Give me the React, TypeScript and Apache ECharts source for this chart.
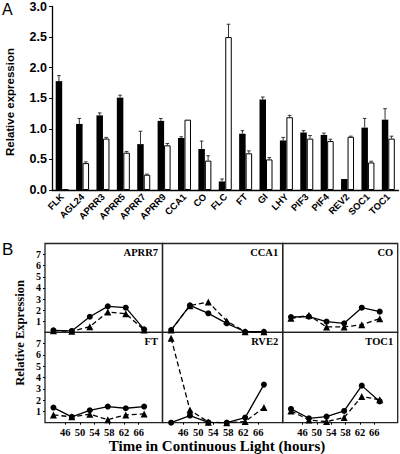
import { useEffect, useRef } from "react";
import * as echarts from "echarts";

// ---------- Panel A data ----------
const genes = ["FLK", "AGL24", "APRR3", "APRR5", "APRR7", "APRR9", "CCA1", "CO", "FLC", "FT", "GI", "LHY", "PIF3", "PIF4", "REV2", "SOC1", "TOC1"];
const blackVals = [1.78, 1.08, 1.22, 1.51, 0.75, 1.13, 0.85, 0.67, 0.14, 0.92, 1.48, 0.81, 0.94, 0.9, 0.18, 1.02, 1.15];
const blackErr = [0.09, 0.09, 0.04, 0.04, 0.21, 0.04, 0.02, 0.13, 0.04, 0.05, 0.04, 0.05, 0.03, 0.03, 0.0, 0.15, 0.18];
const whiteVals = [0.01, 0.44, 0.84, 0.61, 0.25, 0.73, 1.15, 0.48, 2.5, 0.6, 0.5, 1.19, 0.84, 0.8, 0.87, 0.45, 0.84];
const whiteErr = [0.0, 0.02, 0.02, 0.02, 0.01, 0.03, 0.0, 0.08, 0.21, 0.04, 0.03, 0.03, 0.05, 0.03, 0.01, 0.02, 0.04];
const yTicksA = [0, 0.5, 1, 1.5, 2, 2.5, 3];

// ---------- Panel B data ----------
const times = [42.8, 47.8, 52.7, 57.6, 62.5, 67.5];
const timeTicks = [46, 50, 54, 58, 62, 66];
const exprTicks = [1, 2, 3, 4, 5, 6, 7];
const panelNames = ["APRR7", "CCA1", "CO", "FT", "RVE2", "TOC1"];
const aprr7Circle = [0.18, 0.12, 1.4, 2.34, 2.22, 0.27];
const aprr7Tri = [0.15, 0.1, 0.5, 1.83, 1.68, 0.2];
const cca1Circle = [0.2, 2.43, 1.71, 0.81, 0.05, 0.05];
const cca1Tri = [0.2, 2.4, 2.73, 1.02, 0.05, 0.05];
const coCircle = [1.38, 1.41, 0.96, 0.81, 2.22, 1.86];
const coTri = [1.26, 1.53, 0.48, 0.48, 0.68, 1.23];
const ftCircle = [1.34, 0.51, 1.1, 1.43, 1.28, 1.43];
const ftTri = [0.69, 0.52, 0.75, 0.27, 0.69, 0.78];
const rve2Circle = [0.0, 0.63, 0.03, 0.0, 0.45, 3.37];
const rve2Tri = [7.47, 1.13, 0.05, 0.0, 0.1, 1.34];
const toc1Circle = [1.22, 0.39, 0.54, 1.04, 3.28, 1.88];
const toc1Tri = [1.04, 0.24, 0.1, 0.45, 2.32, 2.03];
const circleSets = [aprr7Circle, cca1Circle, coCircle, ftCircle, rve2Circle, toc1Circle];
const triSets = [aprr7Tri, cca1Tri, coTri, ftTri, rve2Tri, toc1Tri];

const SANS = "'Liberation Sans', Arial, sans-serif";
const SERIF = "'Liberation Serif', 'Times New Roman', serif";

export default function App() {
  const ref = useRef<HTMLDivElement>(null);
  useEffect(() => {
    if (!ref.current) return;
    const chart = echarts.init(ref.current, null, { renderer: "svg" });

    const BAR_W = 6.5;
    const errSeries = (vals: number[], errs: number[], offset: number) => ({
      type: "custom",
      xAxisIndex: 0,
      yAxisIndex: 0,
      z: 5,
      silent: true,
      data: genes.map((g, i) => [i, vals[i], errs[i]]),
      renderItem: (params: any, api: any) => {
        const i = api.value(0);
        const v = api.value(1);
        const e = api.value(2);
        if (!e) return null;
        const b = api.coord([i, v]);
        const t = api.coord([i, v + e]);
        const x = b[0] + offset;
        const st = { stroke: "#333", lineWidth: 1 };
        return {
          type: "group",
          children: [
            { type: "line", shape: { x1: x, y1: b[1], x2: x, y2: t[1] }, style: st },
            { type: "line", shape: { x1: x - 1.8, y1: t[1], x2: x + 1.8, y2: t[1] }, style: st },
          ],
        };
      },
    });

    // Panel B grid geometry
    const rowsTop = [243.5, 332.3];
    const rowsH = [88.8, 90.4];
    const colsLeft = [45, 162.5, 282.7];
    const colsW = [117.5, 120.2, 115];

    const grids: any[] = [{ left: 52, top: 5, width: 346.5, height: 185 }];
    const xAxes: any[] = [
      {
        type: "category",
        gridIndex: 0,
        data: genes,
        axisLine: { show: true, lineStyle: { color: "#000", width: 1.3 } },
        axisTick: { show: false },
        axisLabel: {
          rotate: 45,
          margin: 5,
          interval: 0,
          color: "#000",
          fontFamily: SANS,
          fontWeight: "bold",
          fontSize: 9.5,
        },
      },
    ];
    const yAxes: any[] = [
      {
        type: "value",
        gridIndex: 0,
        min: 0,
        max: 3,
        interval: 0.5,
        splitLine: { show: false },
        axisLine: { show: true, lineStyle: { color: "#000", width: 1.3 } },
        axisTick: { show: true, length: 3, lineStyle: { color: "#000" } },
        axisLabel: {
          margin: 5,
          color: "#000",
          fontFamily: SANS,
          fontWeight: "bold",
          fontSize: 12.5,
          formatter: (v: number) => (yTicksA.includes(v) ? v.toFixed(1) : ""),
        },
      },
    ];
    const series: any[] = [
      {
        type: "bar",
        xAxisIndex: 0,
        yAxisIndex: 0,
        data: blackVals,
        barWidth: BAR_W,
        barGap: "0%",
        itemStyle: { color: "#000" },
      },
      {
        type: "bar",
        xAxisIndex: 0,
        yAxisIndex: 0,
        data: whiteVals,
        barWidth: BAR_W,
        barGap: "0%",
        itemStyle: { color: "#fff", borderColor: "#000", borderWidth: 1 },
      },
      errSeries(blackVals, blackErr, -BAR_W / 2),
      errSeries(whiteVals, whiteErr, BAR_W / 2),
    ];

    const graphics: any[] = [
      { type: "text", x: 2, y: 1, style: { text: "A", font: `16px ${SANS}`, fill: "#000" } },
      { type: "text", x: 2, y: 241, style: { text: "B", font: `17px ${SANS}`, fill: "#000" } },
      {
        type: "text",
        x: 10,
        y: 102,
        rotation: Math.PI / 2,
        style: {
          text: "Relative expression",
          font: `bold 11.5px ${SANS}`,
          fill: "#000",
          textAlign: "center",
          textVerticalAlign: "middle",
        },
      },
      {
        type: "text",
        x: 20,
        y: 333,
        rotation: Math.PI / 2,
        style: {
          text: "Relative Expression",
          font: `bold 12.5px ${SERIF}`,
          fill: "#000",
          textAlign: "center",
          textVerticalAlign: "middle",
        },
      },
      {
        type: "text",
        x: 217,
        y: 446,
        style: {
          text: "Time in Continuous Light (hours)",
          font: `bold 15px ${SERIF}`,
          fill: "#000",
          textAlign: "center",
          textVerticalAlign: "middle",
        },
      },
    ];

    panelNames.forEach((name, p) => {
      const r = Math.floor(p / 3);
      const c = p % 3;
      const gi = p + 1;
      grids.push({
        left: colsLeft[c],
        top: rowsTop[r],
        width: colsW[c],
        height: rowsH[r],
        show: true,
        borderColor: "#222",
        borderWidth: 1.3,
        backgroundColor: "transparent",
      });
      xAxes.push({
        type: "value",
        gridIndex: gi,
        min: 40.5,
        max: 72.5,
        splitLine: { show: false },
        axisLine: { show: false },
        axisTick: { show: r === 1, customValues: timeTicks, length: 2, inside: false, lineStyle: { color: "#000" } },
        axisLabel: {
          show: r === 1,
          customValues: timeTicks,
          margin: 4,
          color: "#000",
          fontFamily: SERIF,
          fontWeight: "bold",
          fontSize: 10.5,
        },
      });
      yAxes.push({
        type: "value",
        gridIndex: gi,
        min: 0,
        max: 8,
        interval: 1,
        splitLine: { show: false },
        axisLine: { show: false },
        axisTick: { show: c === 0, customValues: exprTicks, length: 2, lineStyle: { color: "#000" } },
        axisLabel: {
          show: c === 0,
          customValues: exprTicks,
          margin: 4,
          color: "#000",
          fontFamily: SERIF,
          fontWeight: "bold",
          fontSize: 10,
        },
      });
      series.push({
        type: "line",
        xAxisIndex: gi,
        yAxisIndex: gi,
        data: times.map((t, i) => [t, circleSets[p][i]]),
        symbol: "circle",
        symbolSize: 6,
        clip: false,
        itemStyle: { color: "#000" },
        lineStyle: { color: "#000", width: 1.3 },
        z: 3,
      });
      series.push({
        type: "line",
        xAxisIndex: gi,
        yAxisIndex: gi,
        data: times.map((t, i) => [t, triSets[p][i]]),
        symbol: "triangle",
        symbolSize: 7,
        clip: false,
        itemStyle: { color: "#000" },
        lineStyle: { color: "#000", width: 1.3, type: [5, 3] },
        z: 2,
      });
      graphics.push({
        type: "text",
        x: colsLeft[c] + colsW[c] - 4.5,
        y: rowsTop[r] + (r === 0 ? 8.5 : 9.5),
        style: {
          text: name,
          font: `bold 10.5px ${SERIF}`,
          fill: "#000",
          textAlign: "right",
          textVerticalAlign: "middle",
        },
      });
    });

    chart.setOption({
      animation: false,
      backgroundColor: "#fff",
      grid: grids,
      xAxis: xAxes,
      yAxis: yAxes,
      series,
      graphic: graphics,
    });
    return () => chart.dispose();
  }, []);

  return (
    <div
      ref={ref}
      style={{ position: "fixed", left: 0, top: 0, width: 400, height: 454, background: "#fff" }}
    />
  );
}
